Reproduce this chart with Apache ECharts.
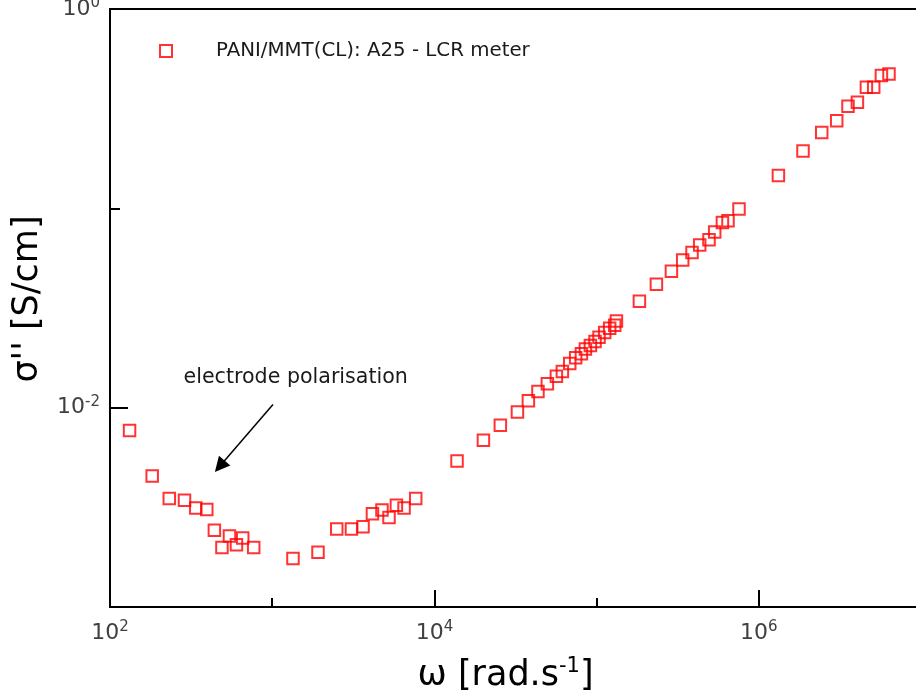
<!DOCTYPE html>
<html>
<head>
<meta charset="utf-8">
<title>PANI/MMT(CL) dielectric loss</title>
<script src="https://cdn.jsdelivr.net/npm/echarts@6/dist/echarts.min.js"></script>
<style>
  html, body { margin: 0; padding: 0; background: #ffffff; }
  #chart { width: 916px; height: 698px; }
</style>
</head>
<body>
<div id="chart"></div>
<script>
// Angular frequency ω [rad/s]
var omega = [
  132, 182, 232, 288, 338, 395, 440, 545, 490, 602, 658, 769,
  1343, 1916, 2500, 3080, 3630, 4150, 4750, 5250, 5830, 6500, 7670,
  13790, 20050, 25500, 32500, 37970, 43500, 49700, 56500, 61500, 68300,
  74300, 80600, 85300, 91600, 97800, 103500, 112200, 120400, 129300, 132500,
  183600, 233700, 289200, 339500, 387500, 432100, 493200, 534700, 596600,
  645800, 755000,
  1321000, 1873000, 2443000, 3022000, 3548000, 4054000, 4606000, 5110000,
  5700000, 6349000
];
// Imaginary conductivity σ'' [S/cm]
var sigma = [
  0.00769, 0.00454, 0.00350, 0.00343, 0.00314, 0.00308, 0.00243, 0.00227,
  0.00199, 0.00205, 0.00222, 0.00199,
  0.00175, 0.00188, 0.00246, 0.00246, 0.00253, 0.00294, 0.00307, 0.00281,
  0.00324, 0.00314, 0.00350,
  0.00540, 0.00687, 0.00817, 0.00950, 0.01083, 0.01206, 0.01318, 0.01438,
  0.01519, 0.01665, 0.01778, 0.01862, 0.01972, 0.02049, 0.02146, 0.02255,
  0.02381, 0.02502, 0.02590, 0.02725,
  0.03417, 0.04157, 0.04830, 0.05508, 0.06012, 0.06550, 0.06964, 0.07607,
  0.08500, 0.08668, 0.09920,
  0.1462, 0.1937, 0.2401, 0.2748, 0.3255, 0.3408, 0.4052, 0.4052,
  0.4633, 0.4724
];
var seriesName = 'PANI/MMT(CL): A25 - LCR meter';

// Axis ranges
var xRange = [1e2, 1e7];
var yRange = [1e-3, 1e0];

// Annotation: text anchor and arrow (tail -> head), in data units
var noteText = 'electrode polarisation';
var noteAt = [1396, 0.01417];
var arrowFrom = [1011, 0.01038];
var arrowTo = [475, 0.00508];

var FONT = 'DejaVu Sans';
var points = omega.map(function (w, i) { return [w, sigma[i]]; });

// "10^n" tick labels; only even exponents are labelled
function powerLabel(v) {
  var e = Math.round(Math.log10(v));
  if (e % 2 !== 0) return '';
  return '{b|10}{s|' + e + '}';
}
var tickRich = {
  b: { fontFamily: FONT, fontSize: 22, color: '#404040' },
  s: { fontFamily: FONT, fontSize: 15, color: '#404040', padding: [0, 0, 12, 0] }
};

var chart = echarts.init(document.getElementById('chart'), null, { renderer: 'canvas' });

chart.setOption({
  backgroundColor: '#ffffff',
  animation: false,
  grid: {
    left: 110, top: 9, width: 811, height: 598,
    containLabel: false,
    outerBoundsMode: 'none',
    show: true,
    borderColor: '#000',
    borderWidth: 2,
    backgroundColor: 'transparent'
  },
  legend: {
    left: 154, top: 36,
    icon: 'rect',
    itemWidth: 12, itemHeight: 12,
    itemStyle: { color: 'transparent', borderColor: '#ff0000', borderWidth: 2 },
    textStyle: { fontFamily: FONT, fontSize: 19.8, color: '#1a1a1a', padding: [0, 0, 0, 39] },
    data: [seriesName]
  },
  xAxis: [
    {
      // labelled axis: long ticks every two decades
      type: 'log', logBase: 100,
      min: xRange[0], max: xRange[1],
      position: 'bottom',
      axisLine: { show: true, lineStyle: { color: '#000', width: 2 } },
      axisTick: { show: true, inside: true, length: 17, lineStyle: { color: '#000', width: 2 } },
      axisLabel: {
        show: true, margin: 13, formatter: powerLabel, rich: tickRich,
        fontFamily: FONT, fontSize: 22, color: '#404040'
      },
      splitLine: { show: false },
      minorTick: { show: false },
      name: '{t|ω [rad.s}{u|-1}{t|]}',
      nameLocation: 'middle',
      nameGap: 49,
      nameTextStyle: {
        padding: [0, 20, 0, 0],
        rich: {
          t: { fontFamily: FONT, fontSize: 35, color: '#000' },
          u: { fontFamily: FONT, fontSize: 21, color: '#000', padding: [0, 0, 18, 0] }
        }
      }
    },
    {
      // short ticks at every decade
      type: 'log', logBase: 10,
      min: xRange[0], max: xRange[1],
      position: 'bottom',
      axisLine: { show: false },
      axisTick: { show: true, inside: true, length: 9, lineStyle: { color: '#000', width: 2 } },
      axisLabel: { show: false },
      splitLine: { show: false }
    }
  ],
  yAxis: [
    {
      type: 'log', logBase: 100,
      min: yRange[0], max: yRange[1],
      position: 'left',
      axisLine: { show: true, lineStyle: { color: '#000', width: 2 } },
      axisTick: { show: true, inside: true, length: 18, lineStyle: { color: '#000', width: 2 } },
      axisLabel: {
        show: true, margin: 10, formatter: powerLabel, rich: tickRich,
        fontFamily: FONT, fontSize: 22, color: '#404040'
      },
      splitLine: { show: false },
      name: "σ'' [S/cm]",
      nameLocation: 'middle',
      nameGap: 65,
      nameRotate: 90,
      nameTextStyle: { fontFamily: FONT, fontSize: 35, color: '#000', padding: [0, 0, 0, 18] }
    },
    {
      type: 'log', logBase: 10,
      min: yRange[0], max: yRange[1],
      position: 'left',
      axisLine: { show: false },
      axisTick: { show: true, inside: true, length: 10, lineStyle: { color: '#000', width: 2 } },
      axisLabel: { show: false },
      splitLine: { show: false }
    }
  ],
  series: [
    {
      name: seriesName,
      type: 'scatter',
      xAxisIndex: 0, yAxisIndex: 0,
      symbol: 'rect',
      symbolSize: 11.5,
      itemStyle: { color: 'transparent', borderColor: '#ff0000', borderWidth: 2 },
      data: points,
      markLine: {
        silent: true,
        symbol: ['none', 'triangle'],
        symbolSize: 15,
        label: { show: false },
        lineStyle: { color: '#000', width: 1.5, type: 'solid' },
        itemStyle: { color: '#000' },
        data: [[{ coord: arrowFrom }, { coord: arrowTo }]]
      },
      markPoint: {
        silent: true,
        symbol: 'rect',
        symbolSize: 0,
        itemStyle: { color: 'transparent' },
        label: {
          show: true, position: 'inside',
          fontFamily: FONT, fontSize: 20.6, color: '#1a1a1a',
          formatter: function () { return noteText; }
        },
        data: [{ coord: noteAt }]
      }
    }
  ]
});
</script>
</body>
</html>
